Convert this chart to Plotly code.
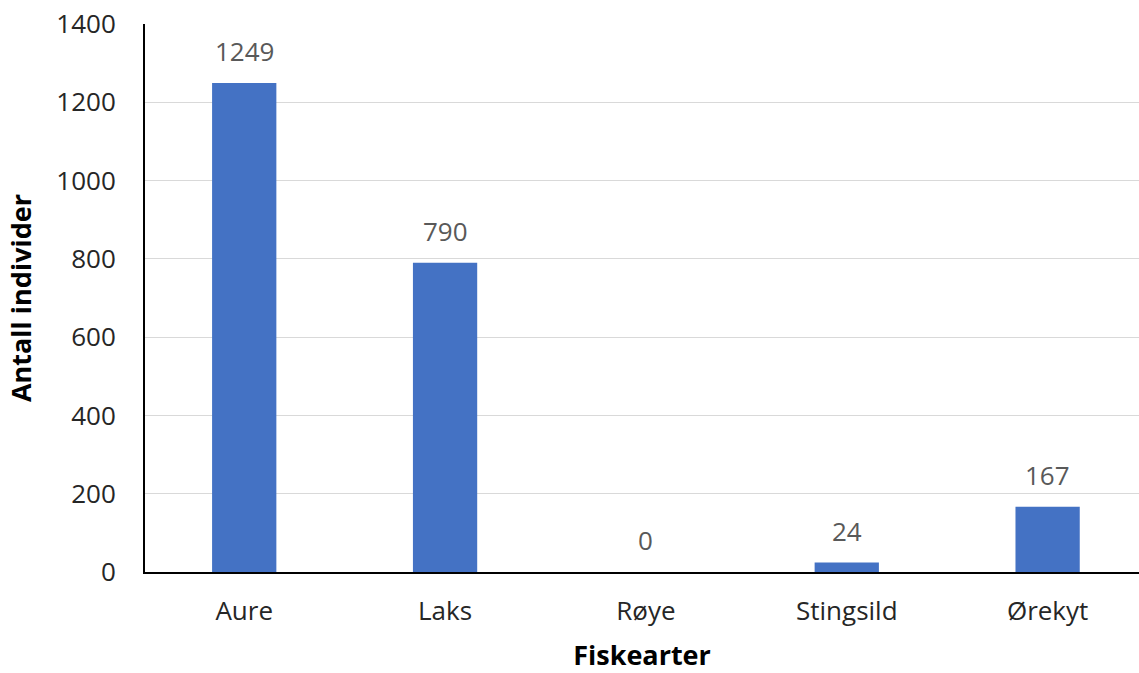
import plotly.graph_objects as go

# Fish species and number of individuals caught
arter = ["Aure", "Laks", "Røye", "Stingsild", "Ørekyt"]
antall = [1249, 790, 0, 24, 167]

y_ticks = [0, 200, 400, 600, 800, 1000, 1200, 1400]

FONT = "'Open Sans', Lato, sans-serif"

fig = go.Figure()
fig.add_trace(go.Bar(
    x=arter,
    y=antall,
    width=0.32,
    marker=dict(color="#4472C4", line=dict(width=0)),
    hoverinfo="x+y",
))

# Value labels above each bar
for art, n in zip(arter, antall):
    fig.add_annotation(
        x=art, y=n, text=str(n), showarrow=False,
        yanchor="middle", yshift=32,
        font=dict(family=FONT, size=26, color="#595959"),
    )

fig.update_layout(
    width=1139, height=673,
    margin=dict(l=145, r=0, t=24, b=101),
    plot_bgcolor="white", paper_bgcolor="white",
    showlegend=False,
    font=dict(family=FONT, size=26, color="#262626"),
    xaxis=dict(
        type="category",
        range=[-0.494, 4.455],
        showline=True, linecolor="black", linewidth=2,
        showgrid=False, ticks="", ticklabelstandoff=15,
        tickfont=dict(family=FONT, size=26, color="#262626"),
        title=dict(text="<b>Fiskearter</b>", standoff=21,
                   font=dict(family=FONT, size=27, color="#000000")),
    ),
    yaxis=dict(
        range=[0, 1400],
        tickvals=y_ticks,
        showline=True, linecolor="black", linewidth=2,
        showgrid=True, gridcolor="#d9d9d9", gridwidth=1,
        zeroline=False, ticks="", ticklabelstandoff=22,
        tickfont=dict(family=FONT, size=26, color="#262626"),
        title=dict(text="<b>Antall individer</b>", standoff=17,
                   font=dict(family=FONT, size=27, color="#000000")),
    ),
)

fig.write_html("out.html")
